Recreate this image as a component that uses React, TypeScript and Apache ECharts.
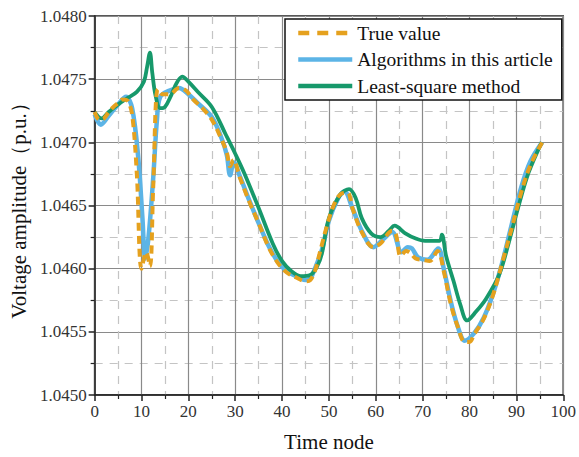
import React, { useEffect, useRef } from "react";
import * as echarts from "echarts";

const seriesNames = ["True value", "Algorithms in this article", "Least-square method"];

const trueT = [0, 1, 2, 3, 4, 5, 6, 7, 8, 9, 10, 11, 11.8, 12.5, 13.5, 14.5, 16, 18, 19.5, 21, 23, 25, 27, 28.2, 28.9, 29.6, 31, 33, 35, 37, 39, 41, 43, 45, 46, 47, 48, 49.5, 51, 52.5, 54, 55, 57, 59.5, 61, 63.5, 64.3, 65.3, 66.5, 67.5, 68.5, 70, 71.5, 73.2, 74.5, 76, 77.5, 79, 80, 81, 83, 85, 87, 89, 91, 93, 95.5];
const trueV = [1.04724, 1.04718, 1.04719, 1.04724, 1.04728, 1.04731, 1.04734, 1.04733, 1.04722, 1.04675, 1.046, 1.04613, 1.04602, 1.04665, 1.04742, 1.04738, 1.04738, 1.04743, 1.04741, 1.04734, 1.04727, 1.04718, 1.04703, 1.04692, 1.04681, 1.04686, 1.04672, 1.04653, 1.04636, 1.04618, 1.04605, 1.04597, 1.04593, 1.0459, 1.04591, 1.04598, 1.04612, 1.04633, 1.0465, 1.04659, 1.0466, 1.04648, 1.04629, 1.04617, 1.0462, 1.0463, 1.04627, 1.0461, 1.04614, 1.04612, 1.04608, 1.04607, 1.04606, 1.04614, 1.04598, 1.04572, 1.04554, 1.04542, 1.04542, 1.04548, 1.0456, 1.04579, 1.04605, 1.04632, 1.0466, 1.04682, 1.047];

const algoT = [0, 1.3, 3, 5, 6.7, 8, 9.3, 10.2, 10.8, 11.5, 12.5, 13.3, 14, 16, 18, 20, 22, 25, 27, 28.2, 28.9, 29.7, 31, 33, 35, 37, 39, 41, 43, 45, 46, 47, 48.5, 50, 52, 53.3, 55, 57, 59.5, 61.5, 63.5, 65.5, 66.8, 67.7, 69, 71, 73.3, 74.5, 76, 77.5, 79, 81, 83, 85, 87, 89, 91, 93, 95.5];
const algoV = [1.04722, 1.04714, 1.04721, 1.0473, 1.04736, 1.04727, 1.04688, 1.0464, 1.04608, 1.04625, 1.04672, 1.04718, 1.04736, 1.04741, 1.04743, 1.04738, 1.04731, 1.0472, 1.04704, 1.0469, 1.04674, 1.04684, 1.04673, 1.04654, 1.04636, 1.04619, 1.04606, 1.04598, 1.04594, 1.04591, 1.04592, 1.046, 1.04615, 1.04638, 1.04656, 1.04661, 1.04648, 1.0463, 1.04617, 1.04623, 1.04629, 1.04613, 1.04617, 1.04616, 1.04609, 1.04607, 1.04616, 1.046, 1.04574, 1.04554, 1.04543, 1.04549, 1.04561, 1.0458, 1.04605, 1.04635, 1.04664, 1.04685, 1.047];

const lsqT = [0, 1.5, 3, 5, 7, 9, 10.5, 11.2, 11.8, 12.3, 13, 14, 15, 16.3, 17.5, 18.7, 20, 22, 25, 28, 30, 32, 35, 38, 40, 42, 44, 46, 47.5, 48.5, 50, 52.5, 54.3, 55.7, 57, 59, 61, 62.8, 64, 66.3, 68.4, 70.5, 73.6, 74.1, 75, 76.6, 78, 79.5, 81.4, 83.5, 86.3, 88.4, 90.5, 92.6, 95.4];
const lsqV = [1.04724, 1.04719, 1.04724, 1.0473, 1.04735, 1.0474, 1.04748, 1.0476, 1.04771, 1.04755, 1.04737, 1.04727, 1.04728, 1.04737, 1.04747, 1.04752, 1.04748, 1.0474, 1.04728, 1.04706, 1.04691, 1.04675, 1.04648, 1.0462, 1.04606, 1.04598, 1.04594, 1.04595, 1.04602, 1.04612, 1.0464, 1.04659, 1.04663, 1.04656, 1.0464, 1.04628, 1.04625, 1.0463, 1.04634, 1.04628, 1.04624, 1.04622, 1.04622, 1.04627, 1.0461, 1.0459, 1.04572, 1.04559, 1.04566, 1.04576, 1.04595, 1.04621, 1.0465, 1.04676, 1.047];

const FONT = "'Liberation Serif', 'Times New Roman', serif";
const ORANGE = "#e5a11e";
const BLUE = "#5cb4e6";
const GREEN = "#17996b";

const zip = (t: number[], v: number[]) => t.map((x, i) => [x, v[i]]);

export default function App() {
  const ref = useRef<HTMLDivElement>(null);
  useEffect(() => {
    if (!ref.current) return;
    const chart = echarts.init(ref.current, undefined, { renderer: "svg" });
    const axisCommon = {
      axisLine: { show: true, lineStyle: { color: "#222", width: 1.5 } },
      axisTick: { show: true, inside: false, length: 6, lineStyle: { color: "#222", width: 1.5 } },
      minorTick: { show: true, splitNumber: 2, length: 4, lineStyle: { color: "#222", width: 1.2 } },
      splitLine: { show: true, lineStyle: { color: "#8a8a8a", width: 1.2 } },
      minorSplitLine: { show: true, lineStyle: { color: "#c4c4c4", width: 1.2, type: [8, 7] } },
      axisLabel: { color: "#333", fontSize: 17, fontFamily: FONT },
      nameTextStyle: { color: "#111", fontSize: 21, fontFamily: FONT },
    };
    chart.setOption({
      animation: false,
      backgroundColor: "#fff",
      grid: { left: 91, right: 14, top: 16, bottom: 60, show: true, borderColor: "#222", borderWidth: 1.5, backgroundColor: "transparent" },
      legend: {
        data: [
          { name: seriesNames[0], itemStyle: { opacity: 0 }, lineStyle: { color: ORANGE, width: 4.5, type: [11, 8] } },
          { name: seriesNames[1], itemStyle: { opacity: 0 }, lineStyle: { color: BLUE, width: 4.5 } },
          { name: seriesNames[2], itemStyle: { opacity: 0 }, lineStyle: { color: GREEN, width: 4.5 } },
        ],
        orient: "vertical",
        left: 285,
        top: 19,
        padding: [4, 9, 4, 11],
        itemWidth: 54,
        itemHeight: 14,
        itemGap: 6.5,
        borderColor: "#111",
        borderWidth: 1.5,
        borderRadius: 0,
        backgroundColor: "#fff",
        textStyle: { fontSize: 19.5, fontFamily: FONT, color: "#111" },
      },
      xAxis: {
        type: "value",
        min: 0,
        max: 100,
        interval: 10,
        name: "Time node",
        nameLocation: "middle",
        nameGap: 36,
        ...axisCommon,
        axisLabel: { ...axisCommon.axisLabel, margin: 8 },
      },
      yAxis: {
        type: "value",
        min: 1.045,
        max: 1.048,
        interval: 0.0005,
        name: "Voltage amplitude（p.u.）",
        nameLocation: "middle",
        nameGap: 64,
        ...axisCommon,
        axisLabel: { ...axisCommon.axisLabel, margin: 8, formatter: (v: number) => v.toFixed(4) },
      },
      series: [
        {
          name: seriesNames[1],
          type: "line",
          data: zip(algoT, algoV),
          smooth: 0.35,
          symbol: "none",
          lineStyle: { color: BLUE, width: 4.5 },
          itemStyle: { color: BLUE },
          z: 2,
        },
        {
          name: seriesNames[2],
          type: "line",
          data: zip(lsqT, lsqV),
          smooth: 0.35,
          symbol: "none",
          lineStyle: { color: GREEN, width: 3.8 },
          itemStyle: { color: GREEN },
          z: 3,
        },
        {
          name: seriesNames[0],
          type: "line",
          data: zip(trueT, trueV),
          smooth: 0.35,
          symbol: "none",
          lineStyle: { color: ORANGE, width: 4, type: [8, 5] },
          itemStyle: { color: ORANGE },
          z: 4,
        },
      ],
    });
    return () => chart.dispose();
  }, []);
  return <div ref={ref} style={{ position: "fixed", left: 0, top: 0, width: 579, height: 457 }} />;
}
